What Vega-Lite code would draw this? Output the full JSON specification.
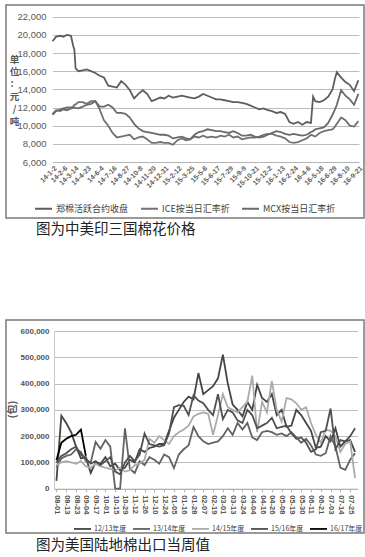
{
"$schema": "https://vega.github.io/schema/vega-lite/v6.json",
"background": "white",
"padding": {"left": 5, "top": 4, "right": 0, "bottom": 0},
"bounds": "flush",
"spacing": 102,
"resolve": {"scale": {"color": "independent", "strokeWidth": "independent"}, "legend": {"color": "independent", "strokeWidth": "independent"}},
"config": {"view": {"stroke": "#7a7a7a", "strokeWidth": 1.5}, "font": "Liberation Sans"},
"vconcat": [
{
"width": 358, "height": 213,
"title": {"text": "图为中美印三国棉花价格", "orient": "bottom", "anchor": "start", "frame": "group", "dx": 30, "offset": 5, "fontSize": 14.5, "fontWeight": "normal", "font": "Noto Sans CJK SC", "color": "#222222", "baseline": "top"},
"data": {"values": [
{"date":"2014-01-02","郑棉活跃合约收盘":19300,"ICE按当日汇率折":11200,"MCX按当日汇率折":11300},
{"date":"2014-01-14","郑棉活跃合约收盘":19800,"ICE按当日汇率折":11600,"MCX按当日汇率折":11700},
{"date":"2014-01-27","郑棉活跃合约收盘":19900,"ICE按当日汇率折":11800,"MCX按当日汇率折":11600},
{"date":"2014-02-06","郑棉活跃合约收盘":19800,"ICE按当日汇率折":11900,"MCX按当日汇率折":11800},
{"date":"2014-02-18","郑棉活跃合约收盘":20000,"ICE按当日汇率折":12000,"MCX按当日汇率折":11700},
{"date":"2014-03-03","郑棉活跃合约收盘":19900,"ICE按当日汇率折":12000,"MCX按当日汇率折":11900},
{"date":"2014-03-10","郑棉活跃合约收盘":18800,"ICE按当日汇率折":12100,"MCX按当日汇率折":11950},
{"date":"2014-03-14","郑棉活跃合约收盘":18400,"ICE按当日汇率折":12300,"MCX按当日汇率折":12000},
{"date":"2014-03-18","郑棉活跃合约收盘":16300,"ICE按当日汇率折":12350,"MCX按当日汇率折":11950},
{"date":"2014-03-27","郑棉活跃合约收盘":16000,"ICE按当日汇率折":12600,"MCX按当日汇率折":11900},
{"date":"2014-04-10","郑棉活跃合约收盘":16100,"ICE按当日汇率折":12600,"MCX按当日汇率折":12100},
{"date":"2014-04-23","郑棉活跃合约收盘":16200,"ICE按当日汇率折":12400,"MCX按当日汇率折":12300},
{"date":"2014-05-07","郑棉活跃合约收盘":16000,"ICE按当日汇率折":12700,"MCX按当日汇率折":12400},
{"date":"2014-05-21","郑棉活跃合约收盘":15800,"ICE按当日汇率折":12700,"MCX按当日汇率折":12700},
{"date":"2014-06-04","郑棉活跃合约收盘":15500,"ICE按当日汇率折":11800,"MCX按当日汇率折":12100},
{"date":"2014-06-18","郑棉活跃合约收盘":15300,"ICE按当日汇率折":10600,"MCX按当日汇率折":12100},
{"date":"2014-07-02","郑棉活跃合约收盘":14400,"ICE按当日汇率折":10000,"MCX按当日汇率折":12300},
{"date":"2014-07-16","郑棉活跃合约收盘":14300,"ICE按当日汇率折":9200,"MCX按当日汇率折":12000},
{"date":"2014-07-30","郑棉活跃合约收盘":14200,"ICE按当日汇率折":8700,"MCX按当日汇率折":11400},
{"date":"2014-08-13","郑棉活跃合约收盘":14900,"ICE按当日汇率折":8800,"MCX按当日汇率折":11400},
{"date":"2014-08-27","郑棉活跃合约收盘":14500,"ICE按当日汇率折":8900,"MCX按当日汇率折":11300},
{"date":"2014-09-10","郑棉活跃合约收盘":13900,"ICE按当日汇率折":9000,"MCX按当日汇率折":10900},
{"date":"2014-09-24","郑棉活跃合约收盘":13000,"ICE按当日汇率折":8500,"MCX按当日汇率折":10200},
{"date":"2014-10-08","郑棉活跃合约收盘":13500,"ICE按当日汇率折":8700,"MCX按当日汇率折":9700},
{"date":"2014-10-22","郑棉活跃合约收盘":13900,"ICE按当日汇率折":8800,"MCX按当日汇率折":9400},
{"date":"2014-11-05","郑棉活跃合约收盘":13500,"ICE按当日汇率折":8500,"MCX按当日汇率折":9300},
{"date":"2014-11-20","郑棉活跃合约收盘":12700,"ICE按当日汇率折":8100,"MCX按当日汇率折":9200},
{"date":"2014-12-04","郑棉活跃合约收盘":12900,"ICE按当日汇率折":8100,"MCX按当日汇率折":9100},
{"date":"2014-12-18","郑棉活跃合约收盘":13100,"ICE按当日汇率折":8200,"MCX按当日汇率折":9000},
{"date":"2014-12-31","郑棉活跃合约收盘":13000,"ICE按当日汇率折":8100,"MCX按当日汇率折":9000},
{"date":"2015-01-14","郑棉活跃合约收盘":13300,"ICE按当日汇率折":8100,"MCX按当日汇率折":8900},
{"date":"2015-01-28","郑棉活跃合约收盘":13100,"ICE按当日汇率折":7900,"MCX按当日汇率折":8600},
{"date":"2015-02-12","郑棉活跃合约收盘":13200,"ICE按当日汇率折":8400,"MCX按当日汇率折":8700},
{"date":"2015-02-26","郑棉活跃合约收盘":13300,"ICE按当日汇率折":8600,"MCX按当日汇率折":8800},
{"date":"2015-03-11","郑棉活跃合约收盘":13200,"ICE按当日汇率折":8400,"MCX按当日汇率折":8600},
{"date":"2015-03-25","郑棉活跃合约收盘":13100,"ICE按当日汇率折":8500,"MCX按当日汇率折":8500},
{"date":"2015-04-08","郑棉活跃合约收盘":13000,"ICE按当日汇率折":8800,"MCX按当日汇率折":9000},
{"date":"2015-04-22","郑棉活跃合约收盘":13200,"ICE按当日汇率折":8700,"MCX按当日汇率折":9300},
{"date":"2015-05-06","郑棉活跃合约收盘":13500,"ICE按当日汇率折":8900,"MCX按当日汇率折":9400},
{"date":"2015-05-20","郑棉活跃合约收盘":13300,"ICE按当日汇率折":8700,"MCX按当日汇率折":9600},
{"date":"2015-06-03","郑棉活跃合约收盘":13100,"ICE按当日汇率折":8800,"MCX按当日汇率折":9500},
{"date":"2015-06-17","郑棉活跃合约收盘":12900,"ICE按当日汇率折":8700,"MCX按当日汇率折":9400},
{"date":"2015-07-01","郑棉活跃合约收盘":12900,"ICE按当日汇率折":8900,"MCX按当日汇率折":9400},
{"date":"2015-07-15","郑棉活跃合约收盘":12800,"ICE按当日汇率折":8800,"MCX按当日汇率折":9300},
{"date":"2015-07-29","郑棉活跃合约收盘":12700,"ICE按当日汇率折":9000,"MCX按当日汇率折":9200},
{"date":"2015-08-12","郑棉活跃合约收盘":12600,"ICE按当日汇率折":8700,"MCX按当日汇率折":9400},
{"date":"2015-08-26","郑棉活跃合约收盘":12600,"ICE按当日汇率折":8800,"MCX按当日汇率折":9200},
{"date":"2015-09-09","郑棉活跃合约收盘":12500,"ICE按当日汇率折":8500,"MCX按当日汇率折":8900},
{"date":"2015-09-23","郑棉活跃合约收盘":12400,"ICE按当日汇率折":8600,"MCX按当日汇率折":8900},
{"date":"2015-10-07","郑棉活跃合约收盘":12200,"ICE按当日汇率折":8700,"MCX按当日汇率折":9000},
{"date":"2015-10-21","郑棉活跃合约收盘":12000,"ICE按当日汇率折":8700,"MCX按当日汇率折":8800},
{"date":"2015-11-04","郑棉活跃合约收盘":11800,"ICE按当日汇率折":8800,"MCX按当日汇率折":8700},
{"date":"2015-11-18","郑棉活跃合约收盘":11900,"ICE按当日汇率折":9000,"MCX按当日汇率折":8800},
{"date":"2015-12-02","郑棉活跃合约收盘":11700,"ICE按当日汇率折":9100,"MCX按当日汇率折":9000},
{"date":"2015-12-16","郑棉活跃合约收盘":11600,"ICE按当日汇率折":9100,"MCX按当日汇率折":9200},
{"date":"2015-12-30","郑棉活跃合约收盘":11400,"ICE按当日汇率折":8900,"MCX按当日汇率折":9400},
{"date":"2016-01-13","郑棉活跃合约收盘":11500,"ICE按当日汇率折":8800,"MCX按当日汇率折":9300},
{"date":"2016-01-27","郑棉活跃合约收盘":11300,"ICE按当日汇率折":8600,"MCX按当日汇率折":9100},
{"date":"2016-02-10","郑棉活跃合约收盘":10400,"ICE按当日汇率折":8200,"MCX按当日汇率折":9000},
{"date":"2016-02-24","郑棉活跃合约收盘":10200,"ICE按当日汇率折":8100,"MCX按当日汇率折":9100},
{"date":"2016-03-09","郑棉活跃合约收盘":10400,"ICE按当日汇率折":8200,"MCX按当日汇率折":9000},
{"date":"2016-03-23","郑棉活跃合约收盘":10100,"ICE按当日汇率折":8400,"MCX按当日汇率折":8900},
{"date":"2016-04-06","郑棉活跃合约收盘":10400,"ICE按当日汇率折":8600,"MCX按当日汇率折":9000},
{"date":"2016-04-20","郑棉活跃合约收盘":10300,"ICE按当日汇率折":9000,"MCX按当日汇率折":9300},
{"date":"2016-04-27","郑棉活跃合约收盘":13200,"ICE按当日汇率折":8900,"MCX按当日汇率折":9400},
{"date":"2016-05-04","郑棉活跃合约收盘":12700,"ICE按当日汇率折":8800,"MCX按当日汇率折":9600},
{"date":"2016-05-18","郑棉活跃合约收盘":12600,"ICE按当日汇率折":9200,"MCX按当日汇率折":9700},
{"date":"2016-06-01","郑棉活跃合约收盘":12800,"ICE按当日汇率折":9400,"MCX按当日汇率折":9800},
{"date":"2016-06-15","郑棉活跃合约收盘":13200,"ICE按当日汇率折":9500,"MCX按当日汇率折":10300},
{"date":"2016-06-29","郑棉活跃合约收盘":14000,"ICE按当日汇率折":9600,"MCX按当日汇率折":11200},
{"date":"2016-07-07","郑棉活跃合约收盘":15200,"ICE按当日汇率折":9900,"MCX按当日汇率折":11800},
{"date":"2016-07-13","郑棉活跃合约收盘":15900,"ICE按当日汇率折":10200,"MCX按当日汇率折":12300},
{"date":"2016-07-27","郑棉活跃合约收盘":15300,"ICE按当日汇率折":10900,"MCX按当日汇率折":13900},
{"date":"2016-08-10","郑棉活跃合约收盘":14800,"ICE按当日汇率折":10600,"MCX按当日汇率折":13300},
{"date":"2016-08-24","郑棉活跃合约收盘":14500,"ICE按当日汇率折":10000,"MCX按当日汇率折":12900},
{"date":"2016-09-07","郑棉活跃合约收盘":13800,"ICE按当日汇率折":9900,"MCX按当日汇率折":12300},
{"date":"2016-09-21","郑棉活跃合约收盘":15000,"ICE按当日汇率折":10500,"MCX按当日汇率折":13500}
]},
"transform": [{"fold": ["郑棉活跃合约收盘", "ICE按当日汇率折", "MCX按当日汇率折"], "as": ["series", "price"]}],
"mark": {"type": "line", "strokeWidth": 1.8, "clip": true},
"encoding": {
"x": {"field": "date", "type": "temporal",
"scale": {"type": "utc", "domain": [{"year": 2014, "month": 1, "date": 2, "utc": true}, {"year": 2016, "month": 9, "date": 23, "utc": true}], "range": [46.5, 353]},
"axis": {"values": [
{"year":2014,"month":1,"date":2,"utc":true},{"year":2014,"month":2,"date":6,"utc":true},{"year":2014,"month":3,"date":14,"utc":true},{"year":2014,"month":4,"date":23,"utc":true},{"year":2014,"month":6,"date":4,"utc":true},{"year":2014,"month":7,"date":16,"utc":true},{"year":2014,"month":8,"date":27,"utc":true},{"year":2014,"month":10,"date":8,"utc":true},{"year":2014,"month":11,"date":20,"utc":true},{"year":2014,"month":12,"date":31,"utc":true},{"year":2015,"month":2,"date":12,"utc":true},{"year":2015,"month":3,"date":25,"utc":true},{"year":2015,"month":5,"date":6,"utc":true},{"year":2015,"month":6,"date":17,"utc":true},{"year":2015,"month":7,"date":29,"utc":true},{"year":2015,"month":9,"date":9,"utc":true},{"year":2015,"month":10,"date":21,"utc":true},{"year":2015,"month":12,"date":2,"utc":true},{"year":2016,"month":1,"date":13,"utc":true},{"year":2016,"month":2,"date":24,"utc":true},{"year":2016,"month":4,"date":6,"utc":true},{"year":2016,"month":5,"date":18,"utc":true},{"year":2016,"month":6,"date":29,"utc":true},{"year":2016,"month":8,"date":10,"utc":true},{"year":2016,"month":9,"date":21,"utc":true}],
"labelExpr": "utcFormat(datum.value, '%y-%-m-%-d')", "labelAngle": -45, "labelFontSize": 7, "labelFontWeight": "bold", "labelColor": "#606060",
"offset": -56, "grid": false, "ticks": false, "domain": true, "domainColor": "#b5b5b5", "title": null, "labelPadding": 2, "labelOverlap": false, "labelBound": false, "labelFlush": false}},
"y": {"field": "price", "type": "quantitative",
"scale": {"domain": [6000, 22000], "range": [157, 11.7], "nice": false, "zero": false},
"axis": {"values": [6000, 8000, 10000, 12000, 14000, 16000, 18000, 20000, 22000], "format": ",.0f", "labelFontSize": 9.5, "labelColor": "#595959",
"offset": -43, "grid": true, "gridColor": "#bcbcbc", "domain": false, "ticks": false, "labelPadding": 3,
"title": ["单", "位", "：", "元", "/", "吨"], "titleAngle": 0, "titleX": -35, "titleY": 49, "titleAlign": "center", "titleBaseline": "top", "titleFontSize": 9.5, "titleFontWeight": "bold", "titleColor": "#555555", "titleLineHeight": 12.4, "titleFont": "Noto Sans CJK SC"}},
"color": {"field": "series", "type": "nominal",
"scale": {"domain": ["郑棉活跃合约收盘", "ICE按当日汇率折", "MCX按当日汇率折"], "range": ["#5e5e5e", "#727272", "#6a6a6a"]},
"legend": {"orient": "none", "legendX": 28, "legendY": 194, "direction": "horizontal", "title": null, "symbolType": "stroke", "symbolSize": 289, "symbolStrokeWidth": 2, "labelFontSize": 9, "labelFont": "Noto Sans CJK SC", "labelColor": "#404040", "columnPadding": 8, "labelOffset": 3, "labelLimit": 200}}
}
},
{
"width": 358, "height": 213,
"title": {"text": "图为美国陆地棉出口当周值", "orient": "bottom", "anchor": "start", "frame": "group", "dx": 30, "offset": 6, "fontSize": 14.5, "fontWeight": "normal", "font": "Noto Sans CJK SC", "color": "#222222", "baseline": "top"},
"data": {"values": [
{"d":"08-01","12/13年度":30000,"13/14年度":80000,"14/15年度":90000,"15/16年度":100000,"16/17年度":108000},
{"d":"08-07","12/13年度":278000,"13/14年度":115000,"14/15年度":100000,"15/16年度":125000,"16/17年度":175000},
{"d":"08-13","12/13年度":250000,"13/14年度":125000,"14/15年度":105000,"15/16年度":135000,"16/17年度":190000},
{"d":"08-18","12/13年度":215000,"13/14年度":130000,"14/15年度":100000,"15/16年度":150000,"16/17年度":200000},
{"d":"08-23","12/13年度":160000,"13/14年度":150000,"14/15年度":95000,"15/16年度":160000,"16/17年度":205000},
{"d":"08-29","12/13年度":115000,"13/14年度":140000,"14/15年度":105000,"15/16年度":130000,"16/17年度":225000},
{"d":"09-04","12/13年度":120000,"13/14年度":105000,"14/15年度":85000,"15/16年度":115000,"16/17年度":125000},
{"d":"09-11","12/13年度":60000,"13/14年度":100000,"14/15年度":80000,"15/16年度":95000},
{"d":"09-17","12/13年度":100000,"13/14年度":178000,"14/15年度":95000,"15/16年度":105000},
{"d":"09-24","12/13年度":95000,"13/14年度":152000,"14/15年度":85000,"15/16年度":90000},
{"d":"10-01","12/13年度":120000,"13/14年度":185000,"14/15年度":80000,"15/16年度":105000},
{"d":"10-08","12/13年度":85000,"13/14年度":160000,"14/15年度":75000,"15/16年度":120000},
{"d":"10-15","12/13年度":95000,"13/14年度":0,"14/15年度":70000,"15/16年度":65000},
{"d":"10-22","12/13年度":70000,"13/14年度":0,"14/15年度":80000,"15/16年度":55000},
{"d":"10-29","12/13年度":80000,"13/14年度":230000,"14/15年度":65000,"15/16年度":100000},
{"d":"11-05","12/13年度":110000,"13/14年度":75000,"14/15年度":70000,"15/16年度":125000},
{"d":"11-12","12/13年度":100000,"13/14年度":60000,"14/15年度":90000,"15/16年度":105000},
{"d":"11-19","12/13年度":150000,"13/14年度":105000,"14/15年度":95000,"15/16年度":130000},
{"d":"11-26","12/13年度":140000,"13/14年度":90000,"14/15年度":110000,"15/16年度":210000},
{"d":"12-03","12/13年度":155000,"13/14年度":120000,"14/15年度":190000,"15/16年度":170000},
{"d":"12-10","12/13年度":160000,"13/14年度":110000,"14/15年度":175000,"15/16年度":165000},
{"d":"12-17","12/13年度":170000,"13/14年度":95000,"14/15年度":200000,"15/16年度":160000},
{"d":"12-24","12/13年度":170000,"13/14年度":130000,"14/15年度":185000,"15/16年度":165000},
{"d":"12-31","12/13年度":220000,"13/14年度":120000,"14/15年度":170000,"15/16年度":210000},
{"d":"01-05","12/13年度":270000,"13/14年度":78000,"14/15年度":200000,"15/16年度":310000},
{"d":"01-10","12/13年度":300000,"13/14年度":130000,"14/15年度":215000,"15/16年度":318000},
{"d":"01-16","12/13年度":330000,"13/14年度":150000,"14/15年度":225000,"15/16年度":315000},
{"d":"01-22","12/13年度":350000,"13/14年度":165000,"14/15年度":240000,"15/16年度":280000},
{"d":"01-28","12/13年度":340000,"13/14年度":235000,"14/15年度":275000,"15/16年度":355000},
{"d":"02-02","12/13年度":440000,"13/14年度":200000,"14/15年度":285000,"15/16年度":335000},
{"d":"02-07","12/13年度":360000,"13/14年度":180000,"14/15年度":290000,"15/16年度":325000},
{"d":"02-13","12/13年度":375000,"13/14年度":170000,"14/15年度":285000,"15/16年度":300000},
{"d":"02-19","12/13年度":390000,"13/14年度":175000,"14/15年度":205000,"15/16年度":280000},
{"d":"02-24","12/13年度":420000,"13/14年度":180000,"14/15年度":280000,"15/16年度":360000},
{"d":"03-01","12/13年度":510000,"13/14年度":200000,"14/15年度":360000,"15/16年度":265000},
{"d":"03-07","12/13年度":400000,"13/14年度":230000,"14/15年度":310000,"15/16年度":300000},
{"d":"03-13","12/13年度":320000,"13/14年度":205000,"14/15年度":300000,"15/16年度":290000},
{"d":"03-18","12/13年度":300000,"13/14年度":250000,"14/15年度":290000,"15/16年度":260000},
{"d":"03-24","12/13年度":275000,"13/14年度":225000,"14/15年度":310000,"15/16年度":250000},
{"d":"03-29","12/13年度":330000,"13/14年度":250000,"14/15年度":330000,"15/16年度":300000},
{"d":"04-04","12/13年度":300000,"13/14年度":195000,"14/15年度":430000,"15/16年度":280000},
{"d":"04-10","12/13年度":395000,"13/14年度":185000,"14/15年度":215000,"15/16年度":230000},
{"d":"04-16","12/13年度":345000,"13/14年度":215000,"14/15年度":330000,"15/16年度":240000},
{"d":"04-21","12/13年度":330000,"13/14年度":220000,"14/15年度":290000,"15/16年度":250000},
{"d":"04-26","12/13年度":360000,"13/14年度":215000,"14/15年度":410000,"15/16年度":270000},
{"d":"05-02","12/13年度":280000,"13/14年度":205000,"14/15年度":300000,"15/16年度":230000},
{"d":"05-08","12/13年度":300000,"13/14年度":210000,"14/15年度":255000,"15/16年度":235000},
{"d":"05-14","12/13年度":235000,"13/14年度":200000,"14/15年度":345000,"15/16年度":240000},
{"d":"05-19","12/13年度":240000,"13/14年度":215000,"14/15年度":340000,"15/16年度":210000},
{"d":"05-25","12/13年度":300000,"13/14年度":195000,"14/15年度":325000,"15/16年度":190000},
{"d":"05-30","12/13年度":280000,"13/14年度":175000,"14/15年度":300000,"15/16年度":195000},
{"d":"06-05","12/13年度":250000,"13/14年度":190000,"14/15年度":310000,"15/16年度":175000},
{"d":"06-11","12/13年度":220000,"13/14年度":165000,"14/15年度":250000,"15/16年度":140000},
{"d":"06-16","12/13年度":155000,"13/14年度":130000,"14/15年度":205000,"15/16年度":150000},
{"d":"06-21","12/13年度":160000,"13/14年度":125000,"14/15年度":175000,"15/16年度":215000},
{"d":"06-27","12/13年度":200000,"13/14年度":135000,"14/15年度":225000,"15/16年度":220000},
{"d":"07-03","12/13年度":180000,"13/14年度":200000,"14/15年度":220000,"15/16年度":305000},
{"d":"07-09","12/13年度":230000,"13/14年度":160000,"14/15年度":200000,"15/16年度":150000},
{"d":"07-14","12/13年度":160000,"13/14年度":80000,"14/15年度":140000,"15/16年度":185000},
{"d":"07-19","12/13年度":180000,"13/14年度":72000,"14/15年度":170000,"15/16年度":180000},
{"d":"07-25","12/13年度":185000,"13/14年度":110000,"14/15年度":180000,"15/16年度":200000},
{"d":"07-31","12/13年度":140000,"13/14年度":135000,"14/15年度":40000,"15/16年度":230000}
]},
"transform": [{"fold": ["12/13年度", "13/14年度", "14/15年度", "15/16年度", "16/17年度"], "as": ["s", "v"]}],
"mark": {"type": "line", "clip": true},
"encoding": {
"x": {"field": "d", "type": "ordinal", "sort": null,
"scale": {"type": "point", "padding": 0.5, "range": [48, 351.5]},
"axis": {"values": ["08-01","08-13","08-23","09-04","09-17","10-01","10-15","10-29","11-12","11-26","12-10","12-24","01-05","01-16","01-28","02-07","02-19","03-01","03-13","03-24","04-04","04-16","04-26","05-08","05-19","05-30","06-11","06-21","07-03","07-14","07-25"],
"labelAngle": 90, "labelFontSize": 7.5, "labelFontWeight": "bold", "labelColor": "#555555",
"offset": -44.3, "domain": true, "domainColor": "#b0b0b0", "ticks": true, "tickSize": 3, "tickColor": "#b0b0b0", "grid": false, "title": null, "labelPadding": 3, "labelOverlap": false}},
"y": {"field": "v", "type": "quantitative",
"scale": {"domain": [0, 600000], "range": [168.7, 11], "nice": false},
"axis": {"values": [0, 100000, 200000, 300000, 400000, 500000, 600000], "format": ",.0f", "labelFontSize": 8, "labelFontWeight": "bold", "labelColor": "#555555",
"offset": -48, "grid": true, "gridColor": "#bcbcbc", "domain": true, "domainColor": "#c8c8c8", "ticks": false, "labelPadding": 5,
"title": "(包)", "titleAngle": -90, "titleX": -42, "titleY": 89, "titleAlign": "center", "titleBaseline": "middle", "titleFontSize": 10, "titleFontWeight": "bold", "titleColor": "#555555", "titleFont": "Noto Sans CJK SC"}},
"color": {"field": "s", "type": "nominal",
"scale": {"domain": ["12/13年度", "13/14年度", "14/15年度", "15/16年度", "16/17年度"], "range": ["#454545", "#636363", "#ababab", "#505050", "#000000"]},
"legend": {"orient": "none", "legendX": 67, "legendY": 199, "direction": "horizontal", "title": null, "symbolType": "stroke", "symbolSize": 289, "labelFontSize": 7, "labelFont": "Noto Sans CJK SC", "labelColor": "#404040", "columnPadding": 2, "labelOffset": 2, "labelLimit": 200}},
"strokeWidth": {"field": "s", "type": "ordinal",
"scale": {"domain": ["12/13年度", "13/14年度", "14/15年度", "15/16年度", "16/17年度"], "range": [1.8, 1.8, 1.8, 1.8, 3.2]},
"legend": {"orient": "none", "legendX": 67, "legendY": 199, "direction": "horizontal", "title": null, "symbolType": "stroke", "symbolSize": 289, "labelFontSize": 7, "labelFont": "Noto Sans CJK SC", "labelColor": "#404040", "columnPadding": 2, "labelOffset": 2, "labelLimit": 200}}
}
}
]
}
